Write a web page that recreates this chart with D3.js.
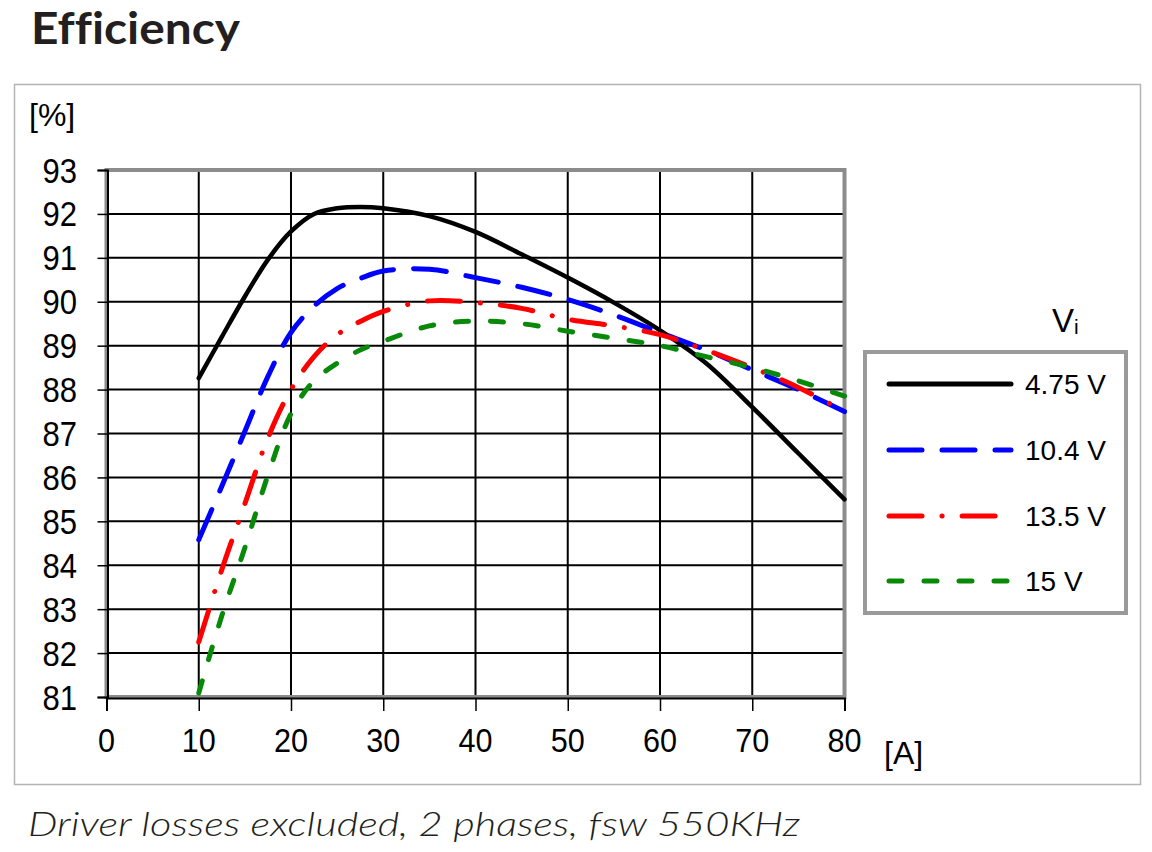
<!DOCTYPE html>
<html>
<head>
<meta charset="utf-8">
<script src="https://cdn.jsdelivr.net/npm/d3@7"></script>
<style>
  html, body { margin: 0; padding: 0; background: #fff; }
  svg { display: block; }
</style>
</head>
<body>
<svg id="chart" width="1152" height="852"></svg>
<script>
// ---- data ----
const currents = [10, 12.5, 15, 17.5, 20, 22.5, 25, 27.5, 30, 35, 40, 45, 50, 55, 60, 65, 70, 75, 80];
const eff475 = [88.26, 89.2, 90.12, 90.96, 91.6, 92.0, 92.13, 92.16, 92.13, 91.95, 91.59, 91.08, 90.55, 89.98, 89.35, 88.6, 87.6, 86.55, 85.5];
const eff104 = [84.58, 85.8, 87.05, 88.3, 89.3, 89.9, 90.3, 90.53, 90.7, 90.74, 90.55, 90.33, 90.05, 89.7, 89.3, 88.9, 88.45, 88.0, 87.5];
const eff135 = [82.25, 83.9, 85.4, 86.9, 88.0, 88.75, 89.25, 89.55, 89.78, 90.02, 89.98, 89.85, 89.6, 89.45, 89.25, 88.9, 88.5, 88.05, 87.5];
const eff15  = [81.09, 82.85, 84.4, 86.05, 87.45, 88.2, 88.6, 88.9, 89.1, 89.45, 89.56, 89.5, 89.33, 89.17, 89.0, 88.75, 88.5, 88.2, 87.85];
const seriesNames = ["4.75 V", "10.4 V", "13.5 V", "15 V"];
const xTicks = [0, 10, 20, 30, 40, 50, 60, 70, 80];
const yTicks = [81, 82, 83, 84, 85, 86, 87, 88, 89, 90, 91, 92, 93];

// ---- styles ----
const seriesData = [eff475, eff104, eff135, eff15];
const colors = ["#000000", "#0000ff", "#ff0000", "#088a08"];
const dashes = [null, "33,20", "33,20,0.1,20", "13,22"];

const svg = d3.select("#chart");
const x = d3.scaleLinear().domain([0, 80]).range([106.5, 844.5]);
const y = d3.scaleLinear().domain([81, 93]).range([697, 170]);
const tickFont = "'Liberation Sans', Arial, sans-serif";

// outer frame
svg.append("rect").attr("x", 14.5).attr("y", 84.5).attr("width", 1126).attr("height", 700)
  .attr("fill", "none").attr("stroke", "#b4b4b4").attr("stroke-width", 1.5);

// title
svg.append("text").attr("x", 31).attr("y", 44)
  .attr("font-family", "Lato, 'Open Sans', sans-serif").attr("font-weight", 700)
  .attr("font-size", 44).attr("fill", "#231f20")
  .style("font-variant-ligatures", "none")
  .attr("textLength", 209).attr("lengthAdjust", "spacingAndGlyphs")
  .text("Efficiency");

// caption
svg.append("text").attr("x", 28).attr("y", 836)
  .attr("font-family", "Lato, 'Open Sans', sans-serif").attr("font-style", "italic").attr("font-weight", 300)
  .attr("font-size", 33).attr("fill", "#231f20")
  .attr("textLength", 772).attr("lengthAdjust", "spacingAndGlyphs")
  .text("Driver losses excluded, 2 phases, fsw 550KHz");

// grid
const g = svg.append("g");
g.selectAll("line.hg").data(yTicks).join("line")
  .attr("x1", x(0)).attr("x2", x(80)).attr("y1", d => y(d)).attr("y2", d => y(d))
  .attr("stroke", "#000").attr("stroke-width", 2);
g.selectAll("line.vg").data(xTicks).join("line")
  .attr("y1", y(81)).attr("y2", y(93)).attr("x1", d => x(d)).attr("x2", d => x(d))
  .attr("stroke", "#000").attr("stroke-width", 2);

// gray plot frame
svg.append("rect").attr("x", x(0)).attr("y", y(93)).attr("width", x(80) - x(0)).attr("height", y(81) - y(93))
  .attr("fill", "none").attr("stroke", "#8c8c8c").attr("stroke-width", 4);

// axes (black lines + ticks)
const yAxis = d3.axisLeft(y).tickValues(yTicks).tickSize(10).tickFormat("");
const xAxis = d3.axisBottom(x).tickValues(xTicks).tickSize(13).tickFormat("");
const ya = svg.append("g").attr("transform", `translate(${x(0) + 1},0)`).call(yAxis);
const xa = svg.append("g").attr("transform", `translate(0,${y(81) + 1})`).call(xAxis);
[ya, xa].forEach(a => {
  a.select(".domain").attr("stroke", "#000").attr("stroke-width", 2);
  a.selectAll(".tick line").attr("stroke", "#000").attr("stroke-width", 1.5);
});

// tick labels (slightly condensed, like the original)
svg.selectAll("g.yl").data(yTicks).join("g")
  .attr("transform", d => `translate(77,${y(d) + 12.5}) scale(0.9,1)`)
  .append("text").attr("text-anchor", "end").attr("font-family", tickFont)
  .attr("font-size", 34.5).attr("fill", "#000").text(d => d);
svg.selectAll("g.xl").data(xTicks).join("g")
  .attr("transform", d => `translate(${x(d)},752) scale(0.9,1)`)
  .append("text").attr("text-anchor", "middle").attr("font-family", tickFont)
  .attr("font-size", 34).attr("fill", "#000").text(d => d);

// units
svg.append("text").attr("x", 29).attr("y", 126).attr("font-family", tickFont).attr("font-size", 32).text("[%]");
svg.append("text").attr("x", 884).attr("y", 764).attr("font-family", tickFont).attr("font-size", 32).text("[A]");

// curves
const line = d3.line().x(d => x(d[0])).y(d => y(d[1])).curve(d3.curveCatmullRom.alpha(0.5));
const plot = svg.append("g");
seriesData.forEach((vals, i) => {
  const pts = currents.map((c, k) => [c, vals[k]]);
  plot.append("path").datum(pts).attr("d", line)
    .attr("fill", "none").attr("stroke", colors[i]).attr("stroke-width", i === 0 ? 4.5 : 5)
    .attr("stroke-linecap", "round").attr("stroke-linejoin", "round")
    .attr("stroke-dasharray", dashes[i]);
});

// legend
const lg = svg.append("g");
const vt = lg.append("text").attr("x", 1052).attr("y", 332).attr("font-family", tickFont).attr("font-size", 33);
vt.append("tspan").text("V");
vt.append("tspan").attr("font-size", 21).attr("dy", 2).text("i");
lg.append("rect").attr("x", 865).attr("y", 352).attr("width", 261).attr("height", 261)
  .attr("fill", "#fff").attr("stroke", "#9a9a9a").attr("stroke-width", 4);
const ly = [384, 450, 516, 581];
seriesNames.forEach((name, i) => {
  lg.append("line").attr("x1", 889).attr("x2", 1011).attr("y1", ly[i]).attr("y2", ly[i])
    .attr("stroke", colors[i]).attr("stroke-width", 5).attr("stroke-linecap", "round")
    .attr("stroke-dasharray", dashes[i]);
  lg.append("text").attr("x", 1025).attr("y", ly[i] + 10).attr("font-family", tickFont)
    .attr("font-size", 28).attr("fill", "#000").text(name);
});
</script>
</body>
</html>
